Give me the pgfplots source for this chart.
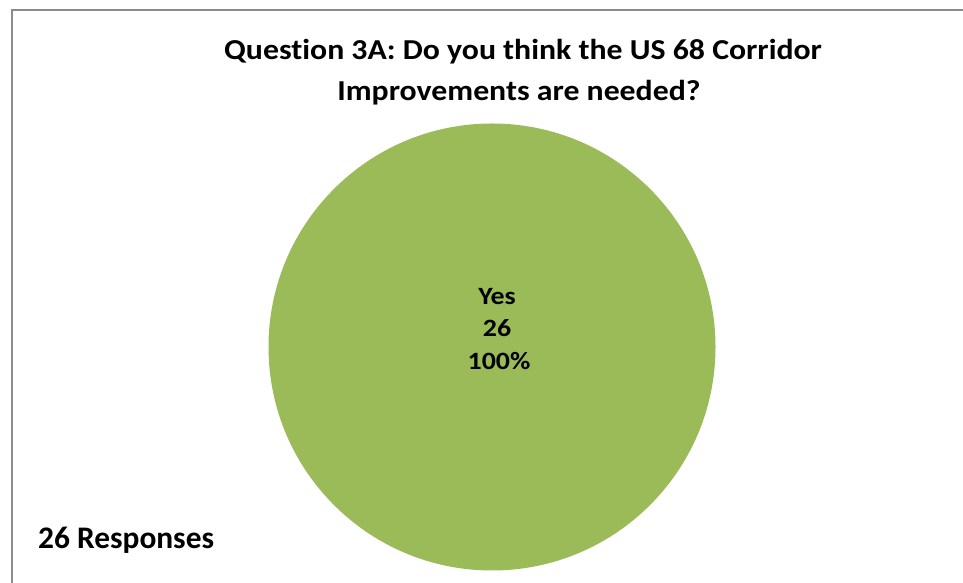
\documentclass[border=0pt]{standalone}
\usepackage{pgfplots}
\pgfplotsset{compat=1.18}
\usepackage{pgfplotstable}
\usepackage{fontspec}
\setmainfont[Ligatures=NoCommon]{Carlito}
\newfontfamily\titlefont[FakeStretch=1.1,Ligatures=NoCommon]{Carlito}
\newfontfamily\labelfont[FakeStretch=1.12,Ligatures=NoCommon]{Carlito}
\definecolor{piegreen}{HTML}{9BBB59}
\definecolor{framegray}{HTML}{8C8C8C}
\pgfplotstableread{
label value
Yes 26
}\piedata
\begin{document}
\begin{tikzpicture}[x=1bp,y=1bp]
\useasboundingbox (0,0) rectangle (963,583);
\fill[white] (0,0) rectangle (963,583);
\draw[framegray, line width=2bp] (11.5,0) -- (11.5,573) -- (963,573);
\begin{axis}[
  at={(492bp,236bp)}, anchor=center,
  width=447bp, height=447bp, scale only axis,
  xmin=-1, xmax=1, ymin=-1, ymax=1,
  hide axis,
]
\pgfplotstablegetelem{0}{value}\of\piedata
\edef\total{\pgfplotsretval}
\fill[piegreen] (axis cs:0,0) circle[radius=1];
\end{axis}
\node[anchor=base, font=\titlefont\bfseries\fontsize{29}{33}\selectfont] at (523,583-60) {Question 3A: Do you think the US 68 Corridor};
\node[anchor=base, font=\titlefont\bfseries\fontsize{29}{33}\selectfont] at (519,583-101) {Improvements are needed?};
\node[anchor=base, font=\labelfont\bfseries\fontsize{25}{29}\selectfont] at (497,583-305) {Yes};
\node[anchor=base, font=\labelfont\bfseries\fontsize{25}{29}\selectfont] at (497,583-337) {26};
\node[anchor=base, font=\labelfont\bfseries\fontsize{25}{29}\selectfont] at (499,583-370) {100\%};
\node[anchor=base west, inner sep=0pt, font=\bfseries\fontsize{31.5}{35}\selectfont] at (38,583-549) {26 Responses};
\end{tikzpicture}
\end{document}
